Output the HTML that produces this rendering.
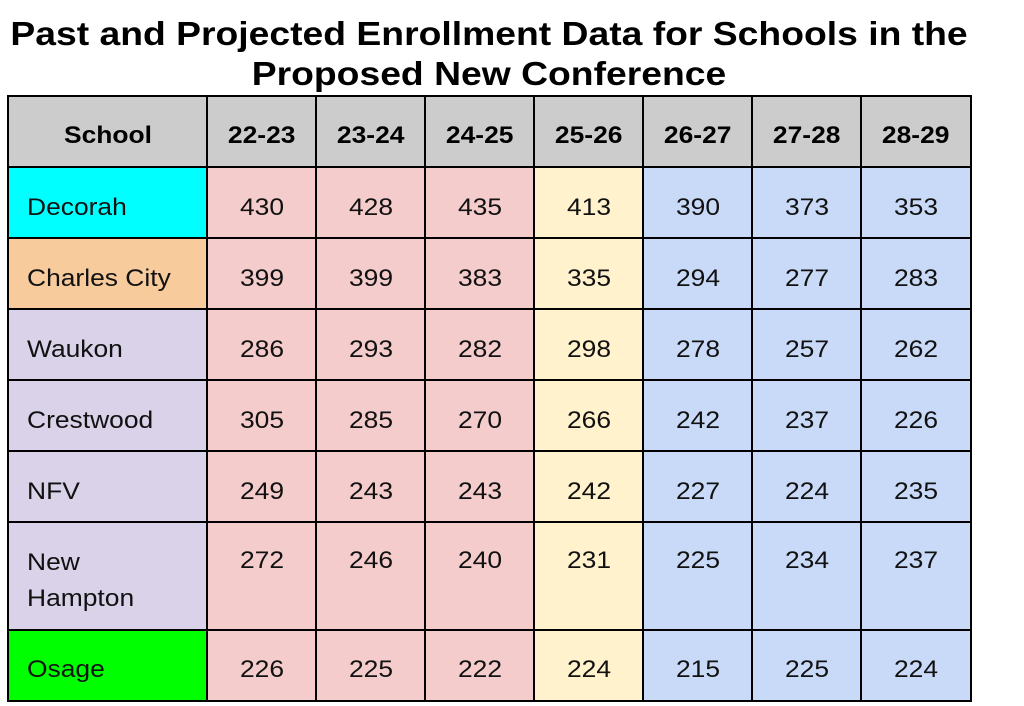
<!DOCTYPE html><html><head><style>
body{margin:0;width:1024px;height:706px;background:#fff;position:relative;overflow:hidden;font-family:"Liberation Sans",Arial,sans-serif}
.t{position:absolute;left:0;width:978px;text-align:center;font-weight:bold;font-size:33px;color:#000;line-height:38px;transform:scaleX(1.13);transform-origin:489px 0}
.c{position:absolute;box-sizing:border-box;border:1.5px solid #000;display:flex;align-items:center;justify-content:center;font-size:24px;color:#111;padding-top:9px}
.c span{display:inline-block;transform:scaleX(1.1)}
.s{justify-content:flex-start;padding-left:18px}
.s span{transform-origin:0 0}
</style></head><body>
<div class="t" style="top:15px">Past and Projected Enrollment Data for Schools in the</div>
<div class="t" style="top:55px">Proposed New Conference</div>
<div id="g"></div>
<div style="position:absolute;left:7px;top:95px;width:965px;height:607px;border:2.5px solid #000;box-sizing:border-box"></div>
<script>
var xs=[8,207,316,425,534,643,752,861,970],ys=[96,167,238,309,380,451,522,630,700];
var hd=["School","22-23","23-24","24-25","25-26","26-27","27-28","28-29"];
var rows=[["Decorah","#00ffff",430,428,435,413,390,373,353],["Charles City","#f8cb9d",399,399,383,335,294,277,283],["Waukon","#d9d2e9",286,293,282,298,278,257,262],["Crestwood","#d9d2e9",305,285,270,266,242,237,226],["NFV","#d9d2e9",249,243,243,242,227,224,235],["New<br>Hampton","#d9d2e9",272,246,240,231,225,234,237],["Osage","#00ff00",226,225,222,224,215,225,224]];
var cols=["","#f4cccc","#f4cccc","#f4cccc","#fff2cc","#c9daf8","#c9daf8","#c9daf8"];
var h="";
function cell(i,j,bg,txt,cls,extra){h+='<div class="c '+cls+'" style="left:'+(xs[i]-1)+'px;top:'+(ys[j]-1)+'px;width:'+(xs[i+1]-xs[i]+3)+'px;height:'+(ys[j+1]-ys[j]+3)+'px;background:'+bg+';border-width:2.5px;'+(extra||'')+'"><span>'+txt+'</span></div>';}
for(var i=0;i<8;i++)cell(i,0,"#cccccc",hd[i],"","font-weight:bold;color:#000;padding-top:7px");
rows.forEach(function(r,j){cell(0,j+1,r[1],r[0],"s","line-height:36px");for(var i=1;i<8;i++)cell(i,j+1,cols[i],r[i+1],"",j==5?"align-items:flex-start;padding-top:24px":"");});
document.getElementById("g").innerHTML=h;
</script>
</body></html>
